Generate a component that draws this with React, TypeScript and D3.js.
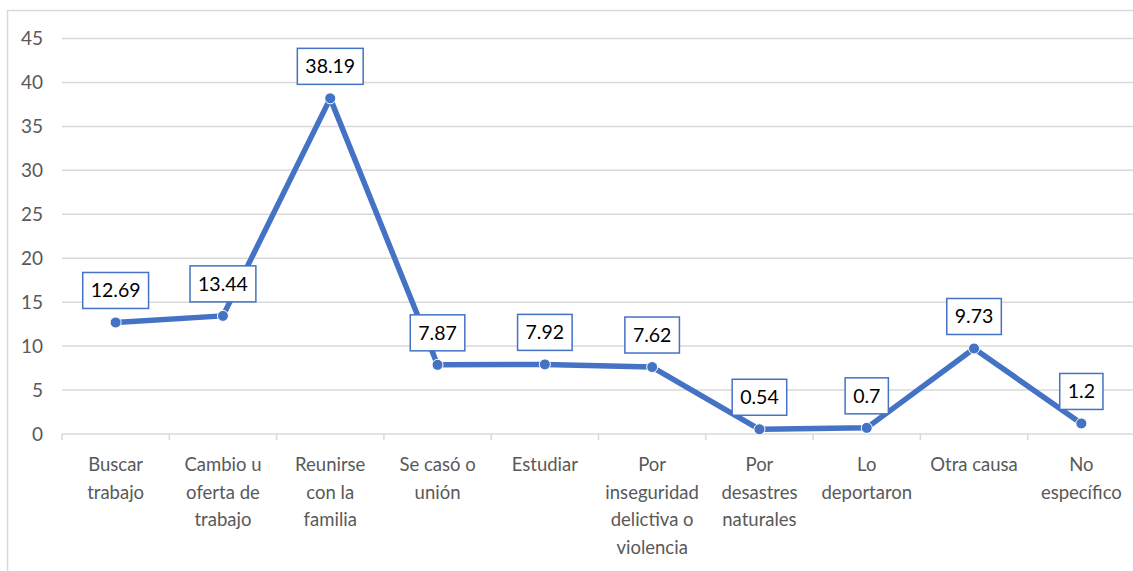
import React, { useRef, useEffect } from "react";
import * as d3 from "d3";

const categories = [
  "Buscar\ntrabajo",
  "Cambio u\noferta de\ntrabajo",
  "Reunirse\ncon la\nfamilia",
  "Se casó o\nunión",
  "Estudiar",
  "Por\ninseguridad\ndelictiva o\nviolencia",
  "Por\ndesastres\nnaturales",
  "Lo\ndeportaron",
  "Otra causa",
  "No\nespecífico",
];
const values = [12.69, 13.44, 38.19, 7.87, 7.92, 7.62, 0.54, 0.7, 9.73, 1.2];
const yTicks = [0, 5, 10, 15, 20, 25, 30, 35, 40, 45];

const W = 1133;
const H = 571;
const FONT = "Lato, 'Open Sans', sans-serif";
const BLUE = "#4472C4";

function App() {
  const svgRef = useRef<SVGSVGElement>(null);

  useEffect(() => {
    const svg = d3.select(svgRef.current);
    svg.selectAll("*").remove();

    const left = 62, right = 1135, top = 38.5, bottom = 434;

    const x = d3.scaleBand().domain(categories).range([left, right]);
    const y = d3.scaleLinear().domain([0, 45]).range([bottom, top]);
    const cx = (i: number) => x(categories[i])! + x.bandwidth() / 2;

    // frame
    svg.append("rect")
      .attr("x", 7.5).attr("y", 10.5)
      .attr("width", W + 20).attr("height", H + 20)
      .attr("fill", "white").attr("stroke", "#d9d9d9").attr("stroke-width", 1.5);

    //gridlines
    svg.selectAll(".grid")
      .data(yTicks)
      .join("line")
      .attr("class", "grid")
      .attr("x1", left).attr("x2", right)
      .attr("y1", d => y(d)).attr("y2", d => y(d))
      .attr("stroke", "#d9d9d9").attr("stroke-width", 1.5);

    // y labels
    svg.selectAll(".ylab")
      .data(yTicks)
      .join("text")
      .attr("class", "ylab")
      .attr("x", 43).attr("y", d => y(d))
      .attr("dy", "0.35em")
      .attr("text-anchor", "end")
      .attr("font-family", FONT).attr("font-size", 19).attr("fill", "#595959")
      .text(d => d);

    // x ticks at band edges
    const edges = categories.map(c => x(c)!).concat([right]);
    svg.selectAll(".xtick")
      .data(edges)
      .join("line")
      .attr("class", "xtick")
      .attr("x1", d => d).attr("x2", d => d)
      .attr("y1", bottom).attr("y2", bottom + 6)
      .attr("stroke", "#d9d9d9").attr("stroke-width", 1.5);

    // category labels
    const lab = svg.selectAll(".xlab")
      .data(categories)
      .join("text")
      .attr("class", "xlab")
      .attr("text-anchor", "middle")
      .attr("font-family", FONT).attr("font-size", 18.5).attr("fill", "#595959");
    lab.each(function (d, i) {
      const t = d3.select(this);
      d.split("\n").forEach((ln, k) => {
        t.append("tspan")
          .attr("x", cx(i))
          .attr("y", 471 + k * 27.7)
          .text(ln);
      });
    });

    //line
    const myLine = d3.line<number>()
      .x((v, i) => cx(i))
      .y(v => y(v));
    svg.append("path")
      .datum(values)
      .attr("d", myLine)
      .attr("fill", "none")
      .attr("stroke", BLUE)
      .attr("stroke-width", 5.5)
      .attr("stroke-linejoin", "round");

    // markers
    svg.selectAll(".pt")
      .data(values)
      .join("circle")
      .attr("class", "pt")
      .attr("cx", (v, i) => cx(i))
      .attr("cy", v => y(v))
      .attr("r", 5.5)
      .attr("fill", BLUE)
      .attr("stroke", "white").attr("stroke-width", 1);

    // value labels in boxes
    const g = svg.selectAll(".vlab")
      .data(values)
      .join("g")
      .attr("class", "vlab");
    g.each(function (v, i) {
      const gg = d3.select(this);
      const rect = gg.append("rect");
      const txt = gg.append("text")
        .attr("x", cx(i))
        .attr("y", y(v) - 32)
        .attr("dy", "0.35em")
        .attr("text-anchor", "middle")
        .attr("font-family", FONT).attr("font-size", 19.5).attr("fill", "#000")
        .text(String(v));
      const bb = (txt.node() as SVGTextElement).getBBox();
      const w = bb.width + 16;
      rect.attr("x", cx(i) - w / 2)
        .attr("y", y(v) - 50)
        .attr("width", w).attr("height", 36)
        .attr("fill", "white")
        .attr("stroke", BLUE).attr("stroke-width", 1.5);
    });
  }, []);

  return (
    <div style={{ position: "absolute", left: 0, top: 0 }}>
      <svg ref={svgRef} width={W} height={H} style={{ display: "block" }} />
    </div>
  );
}

export default App;
